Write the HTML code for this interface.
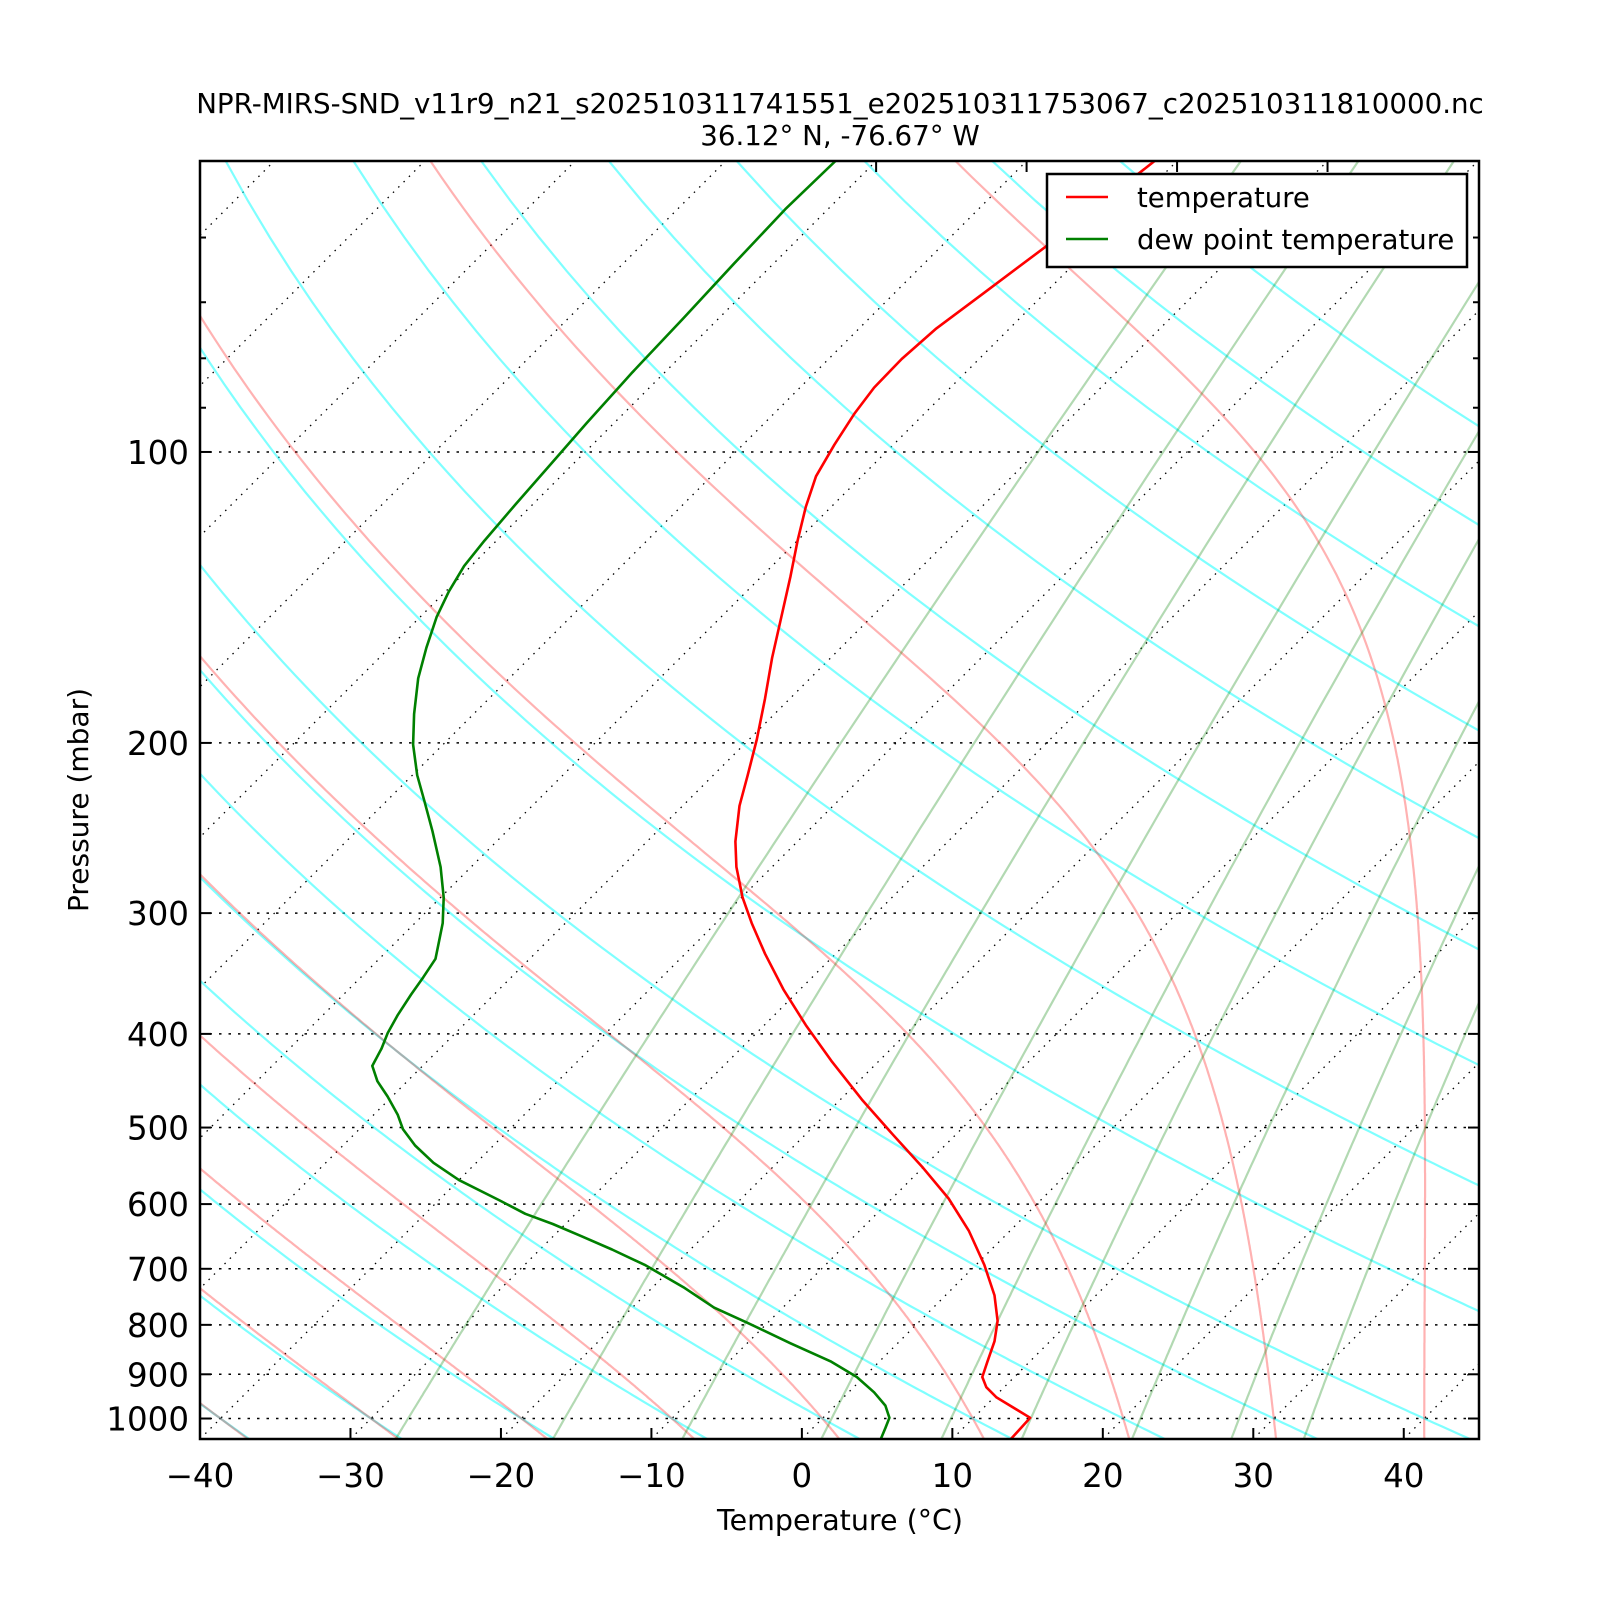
<!DOCTYPE html>
<html><head><meta charset="utf-8">
<style>
html,body{margin:0;padding:0;background:#fff;}
svg{display:block;font-family:"DejaVu Sans","Liberation Sans",sans-serif;}
</style></head>
<body>
<svg id="s" width="1600" height="1600" viewBox="0 0 1600 1600" xmlns="http://www.w3.org/2000/svg">
<defs><clipPath id="c"><rect x="200" y="161" width="1279" height="1278"/></clipPath></defs>
<rect width="1600" height="1600" fill="#fff"/>
<g id="bg" clip-path="url(#c)"></g>
<g id="fg" clip-path="url(#c)"></g>
<g id="ax"></g>
<text x="840" y="113" font-size="27.7" text-anchor="middle">NPR-MIRS-SND_v11r9_n21_s202510311741551_e202510311753067_c202510311810000.nc</text>
<text x="840" y="145" font-size="27.7" text-anchor="middle">36.12° N, -76.67° W</text>
<text x="840" y="1530" font-size="28.5" text-anchor="middle">Temperature (°C)</text>
<text transform="translate(88,800) rotate(-90)" font-size="28" text-anchor="middle">Pressure (mbar)</text>
<rect x="1047" y="174" width="420" height="93" fill="#fff" stroke="#000" stroke-width="2.5"/>
<line x1="1066" y1="197" x2="1108" y2="197" stroke="#f00" stroke-width="2.5"/>
<line x1="1066" y1="239" x2="1108" y2="239" stroke="#008000" stroke-width="2.5"/>
<text x="1137" y="207" font-size="27.5">temperature</text>
<text x="1137" y="249" font-size="27.5">dew point temperature</text>
</svg>
<script>
(function(){
var NS="http://www.w3.org/2000/svg";
var K=1278/Math.log10(21), PX=1279/85;
function Y(p){return 1439-K*Math.log10(1050/p);}
function X(T,p){return 200+(T+40)*PX+(1439-Y(p));}
var bg=document.getElementById('bg'),fg=document.getElementById('fg'),ax=document.getElementById('ax');
function el(par,tag,at){var e=document.createElementNS(NS,tag);for(var k in at)e.setAttribute(k,at[k]);par.appendChild(e);return e;}
function poly(par,pts,st){var d=pts.map(function(q){return q[0].toFixed(1)+','+q[1].toFixed(1);}).join(' ');st.points=d;st.fill='none';return el(par,'polyline',st);}
var ps=[];for(var p=1050;p>=50;p-=5)ps.push(p);
for(var T=-200;T<=60;T+=10){
 el(bg,'line',{x1:X(T,1050),y1:Y(1050),x2:X(T,50),y2:Y(50),stroke:'#000','stroke-width':1.3,'stroke-dasharray':'1.5,6'});
}
[100,200,300,400,500,600,700,800,900,1000].forEach(function(p){
 el(bg,'line',{x1:200,y1:Y(p),x2:1479,y2:Y(p),stroke:'#000','stroke-width':1.5,'stroke-dasharray':'2.5,7'});
});
var th=[];for(var t=-40;t<=40;t+=10)th.push(t);for(t=60;t<=220;t+=20)th.push(t);
th.forEach(function(t){var pts=ps.map(function(p){var TK=(t+273.15)*Math.pow(p/1000,0.286);return [X(TK-273.15,p),Y(p)];});
 poly(bg,pts,{stroke:'#00ffff','stroke-opacity':0.5,'stroke-width':2.2});});
var Rd=287.04,Cp=1005.7,Lv=2.501e6,eps=0.622,FAC=1;
function f(p,T){var es=6.112*Math.exp(17.67*(T-273.15)/(T-29.65));var rs=FAC*eps*es/(p-es);
 return ((Rd*T+Lv*rs)/p)/(Cp+Lv*Lv*rs*eps/(Rd*T*T));}
function integ(T0,p0,p1,h){var pts=[[p0,T0]];var T=T0,p=p0;var n=Math.round(Math.abs(p1-p0)/Math.abs(h));
 for(var i=0;i<n;i++){var k1=f(p,T),k2=f(p+h/2,T+h/2*k1),k3=f(p+h/2,T+h/2*k2),k4=f(p+h,T+h*k3);
  T+=h/6*(k1+2*k2+2*k3+k4);p+=h;pts.push([p,T]);}return pts;}
for(var t0=-40;t0<=40;t0+=10){
 FAC=t0<=20?1.0:(t0==30?0.97:0.92);
 var up=integ(t0+273.15,1000,50,-2),dn=integ(t0+273.15,1000,1050,2);
 var all=dn.reverse().concat(up.slice(1));
 poly(bg,all.map(function(q){return [X(q[1]-273.15,q[0]),Y(q[0])];}),{stroke:'#ff0000','stroke-opacity':0.3,'stroke-width':2.2});
}
[0.4,1,2,4,7,10,16,24,32].forEach(function(w){
 var pts=ps.map(function(p){var e=w*p/(622+w);var L=Math.log(e/6.112);var Td=243.5*L/(17.67-L);return [X(Td,p),Y(p)];});
 poly(bg,pts,{stroke:'#008000','stroke-opacity':0.3,'stroke-width':2.2});
});
var s=1.02;
var red=[[1133,157],[1025,242],[965,287],[918,322],[884,352],[857,380],[838,405],[818,436],[800,467],[790,497],[782,530],[775,565],[766,605],[757,645],[750,685],[742,725],[733,760],[725,790],[721,825],[722,850],[728,880],[737,905],[750,935],[768,970],[790,1005],[815,1040],[845,1078],[875,1112],[905,1145],[930,1175],[950,1207],[965,1240],[975,1270],[978,1295],[975,1315],[968,1335],[963,1350],[967,1360],[977,1370],[1010,1390],[990,1412]];
var grn=[[820,157],[770,205],[720,258],[670,312],[620,365],[575,415],[540,455],[505,495],[475,530],[455,555],[440,580],[428,605],[418,635],[410,665],[406,700],[405,730],[409,760],[416,785],[424,815],[432,850],[435,880],[434,905],[430,925],[427,940],[415,958],[403,975],[390,995],[380,1013],[374,1028],[365,1045],[370,1060],[380,1075],[390,1093],[395,1107],[407,1123],[425,1140],[450,1157],[490,1177],[515,1190],[542,1200],[570,1212],[600,1225],[632,1240],[670,1262],[700,1282],[733,1297],[775,1317],[815,1335],[840,1350],[857,1365],[868,1378],[872,1390],[868,1400],[863,1412]];
poly(fg,red.map(function(q){return [q[0]*s,q[1]*s];}),{stroke:'#ff0000','stroke-width':2.6,'stroke-linejoin':'round'});
poly(fg,grn.map(function(q){return [q[0]*s,q[1]*s];}),{stroke:'#008000','stroke-width':2.6,'stroke-linejoin':'round'});
el(ax,'rect',{x:200,y:161,width:1279,height:1278,fill:'none',stroke:'#000','stroke-width':2.5});
[100,200,300,400,500,600,700,800,900,1000].forEach(function(p){var y=Y(p);
 el(ax,'line',{x1:200,y1:y,x2:211,y2:y,stroke:'#000','stroke-width':2});
 el(ax,'line',{x1:1468,y1:y,x2:1479,y2:y,stroke:'#000','stroke-width':2});
 var t=el(ax,'text',{x:189,y:y+12,'font-size':32.5,'text-anchor':'end'});t.textContent=p;});
[50,60,70,80,90].forEach(function(p){var y=Y(p);
 el(ax,'line',{x1:200,y1:y,x2:206,y2:y,stroke:'#000','stroke-width':2});
 el(ax,'line',{x1:1473,y1:y,x2:1479,y2:y,stroke:'#000','stroke-width':2});});
for(var T=-40;T<=40;T+=10){var x=200+(T+40)*PX;
 el(ax,'line',{x1:x,y1:1439,x2:x,y2:1428,stroke:'#000','stroke-width':2});
 var t=el(ax,'text',{x:x,y:1487,'font-size':32.5,'text-anchor':'middle'});t.textContent=(T<0?'\u2212'+(-T):T);}
for(var T=-80;T<=-50;T+=10){var x=200+(T+40)*PX+1278;
 el(ax,'line',{x1:x,y1:161,x2:x,y2:172,stroke:'#000','stroke-width':2});}
})();
</script>
</body></html>
